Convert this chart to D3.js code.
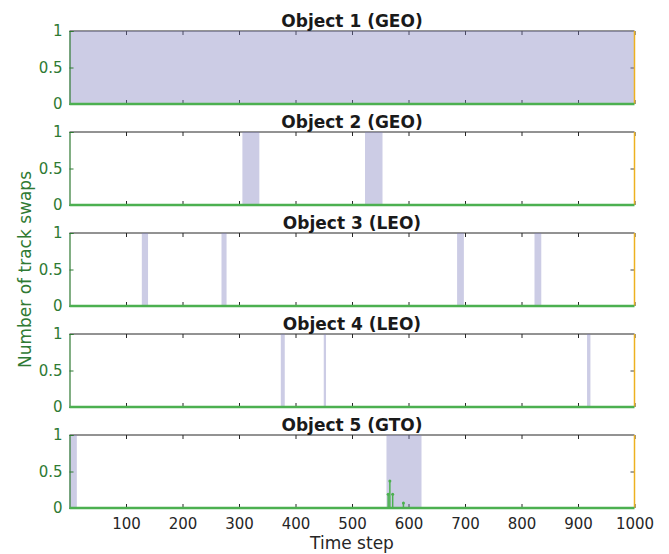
<!DOCTYPE html>
<html>
<head>
<meta charset="utf-8">
<script src="https://cdn.jsdelivr.net/npm/d3@7"></script>
<style>
  body { margin: 0; background: #fff; }
  text { font-family: "DejaVu Sans", sans-serif; }
</style>
</head>
<body>
<svg id="chart" width="669" height="554"></svg>
<script>
// panel titles
var objects = ["Object 1 (GEO)", "Object 2 (GEO)", "Object 3 (LEO)", "Object 4 (LEO)", "Object 5 (GTO)"];

// shaded track-swap intervals per object (time steps)
var swapStart = [[0], [306, 523], [128, 269, 686, 823], [374, 450, 916], [0, 561]];
var swapEnd   = [[1000], [336, 554], [139, 278, 698, 835], [381, 454, 922], [13, 623]];

// number of track swaps (non-zero steps only, object 5)
var spikeObject = 4;
var spikeSteps  = [564, 567, 572, 591];
var spikeValues = [0.19, 0.37, 0.19, 0.07];

var xTicks = [100, 200, 300, 400, 500, 600, 700, 800, 900, 1000];
var yTicks = [0, 0.5, 1];

var svg = d3.select("#chart");
var left = 69.5, right = 634.5;
var panelTop = 31, panelH = 73, panelGap = 101;

var green = "#4cb050", darkGreen = "#2f7a33", orange = "#edb120", shade = "#7f7fbf";

var x = d3.scaleLinear().domain([0, 1000]).range([left, right]);

objects.forEach(function(name, i) {
  var top = panelTop + i * panelGap;
  var y = d3.scaleLinear().domain([0, 1]).range([top + panelH, top]);
  var g = svg.append("g");

  // box top line
  g.append("line")
    .attr("x1", left).attr("x2", right)
    .attr("y1", top).attr("y2", top)
    .attr("stroke", "#262626").attr("stroke-width", 1);

  // x ticks, inward, top and bottom
  var xt = g.append("g").attr("transform", "translate(0," + (top + panelH) + ")")
    .call(d3.axisBottom(x).tickValues(xTicks).tickSize(-4)
      .tickFormat(i === objects.length - 1 ? d3.format("d") : "").tickPadding(10));
  xt.select(".domain").remove();
  xt.selectAll("line").attr("stroke", "#262626");
  xt.selectAll("text").attr("fill", "#262626").style("font-size", "15px")
    .style("font-family", "DejaVu Sans");

  var xt2 = g.append("g").attr("transform", "translate(0," + top + ")")
    .call(d3.axisTop(x).tickValues(xTicks).tickSize(-4).tickFormat(""));
  xt2.select(".domain").remove();
  xt2.selectAll("line").attr("stroke", "#262626");

  // right axis tick
  var yr = g.append("g").attr("transform", "translate(" + right + ",0)")
    .call(d3.axisRight(y).tickValues([0.5]).tickSize(-4).tickFormat(""));
  yr.select(".domain").remove();
  yr.selectAll("line").attr("stroke", "#444");

  // shaded swap intervals
  g.selectAll("rect.swap")
    .data(swapStart[i].map(function(s, j) { return [s, swapEnd[i][j]]; }))
    .enter().append("rect")
    .attr("class", "swap")
    .attr("x", function(d) { return x(d[0]); })
    .attr("width", function(d) { return x(d[1]) - x(d[0]); })
    .attr("y", y(1))
    .attr("height", y(0) - y(1))
    .attr("fill", shade)
    .attr("fill-opacity", 0.4);

  // left axis, green
  var yl = g.append("g").attr("transform", "translate(" + left + ",0)")
    .call(d3.axisLeft(y).tickValues(yTicks).tickSize(-4).tickPadding(7)
      .tickFormat(function(d) { return d; }));
  yl.select(".domain").attr("stroke", darkGreen).attr("stroke-width", 1.2);
  yl.selectAll("line").attr("stroke", darkGreen);
  yl.selectAll("text").attr("fill", darkGreen).style("font-size", "15px")
    .style("font-family", "DejaVu Sans");

  // right axis line, orange
  g.append("line")
    .attr("x1", right).attr("x2", right)
    .attr("y1", top).attr("y2", top + panelH)
    .attr("stroke", orange).attr("stroke-width", 1.5);

  // track swaps line (zero baseline)
  g.append("line")
    .attr("x1", x(0)).attr("x2", x(1000))
    .attr("y1", y(0)).attr("y2", y(0))
    .attr("stroke", green).attr("stroke-width", 2.5);

  if (i === spikeObject) {
    var sp = g.selectAll("g.spike")
      .data(spikeSteps.map(function(s, j) { return [s, spikeValues[j]]; }))
      .enter().append("g").attr("class", "spike");
    sp.append("line")
      .attr("x1", function(d) { return x(d[0]); })
      .attr("x2", function(d) { return x(d[0]); })
      .attr("y1", y(0))
      .attr("y2", function(d) { return y(d[1]); })
      .attr("stroke", green).attr("stroke-width", 1.5);
    sp.append("circle")
      .attr("cx", function(d) { return x(d[0]); })
      .attr("cy", function(d) { return y(d[1]); })
      .attr("r", 1.5)
      .attr("fill", green);
  }

  // title
  g.append("text")
    .attr("x", (left + right) / 2)
    .attr("y", top - 4)
    .attr("text-anchor", "middle")
    .attr("fill", "#1a1a1a")
    .style("font-size", "17px")
    .style("font-weight", "bold")
    .text(name);
});

// axis labels
svg.append("text")
  .attr("x", (left + right) / 2)
  .attr("y", 549)
  .attr("text-anchor", "middle")
  .attr("fill", "#262626")
  .style("font-size", "17px")
  .text("Time step");

svg.append("text")
  .attr("transform", "translate(31," + (panelTop + 2 * panelGap + panelH / 2) + ") rotate(-90)")
  .attr("text-anchor", "middle")
  .attr("fill", darkGreen)
  .style("font-size", "17px")
  .text("Number of track swaps");
</script>
</body>
</html>
